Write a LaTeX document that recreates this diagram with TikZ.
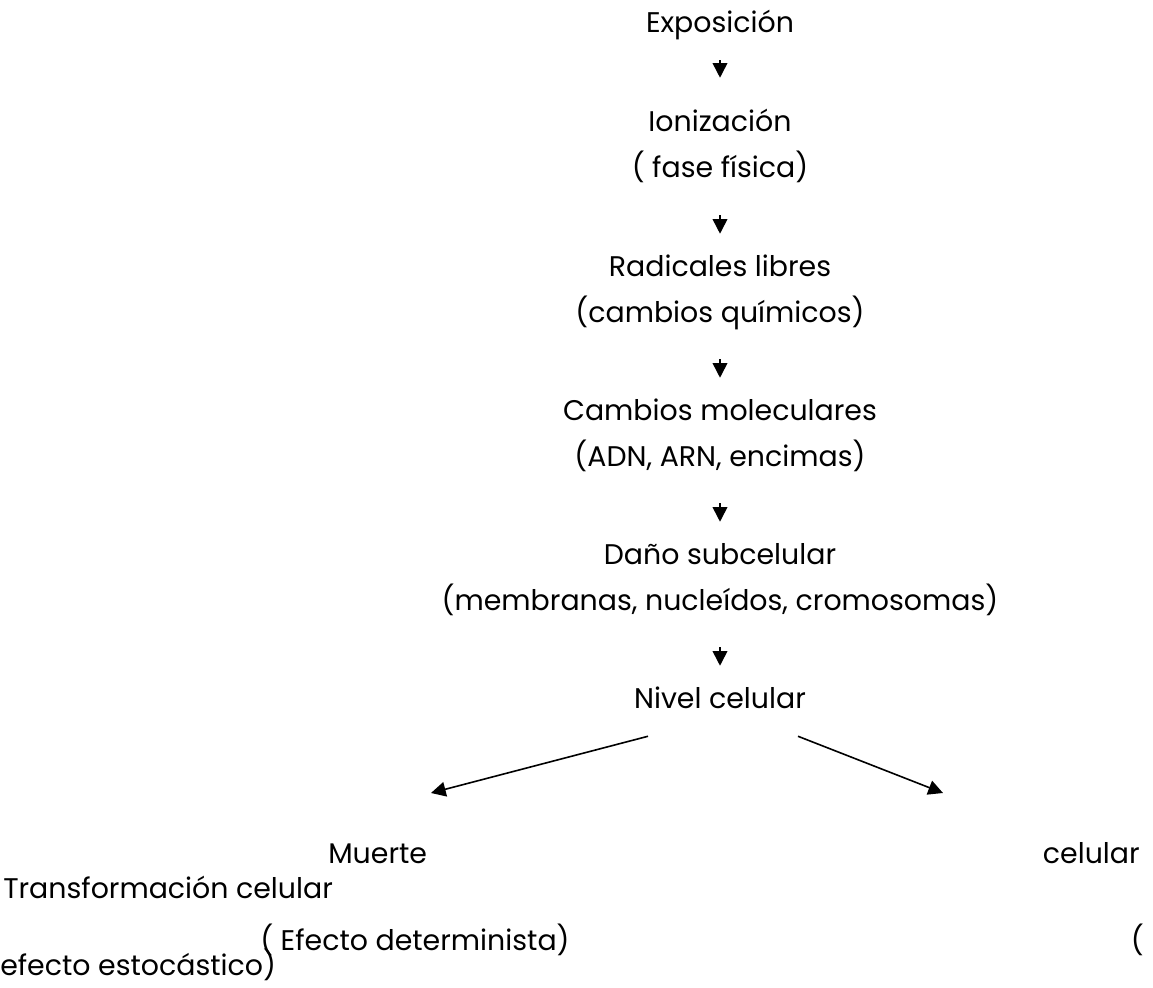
\documentclass[tikz,border=0pt]{standalone}
\usepackage{fontspec}
\setmainfont{Poppins}
\usetikzlibrary{arrows.meta}

\tikzset{
  paso/.style={inner sep=0pt, text height=15pt, text depth=4pt, anchor=base,
    font=\fontsize{21.3}{26}\selectfont},
  flecha/.style={-{Triangle[length=11pt,width=11pt]}, line width=1.2pt},
  corta/.style={flecha, shorten <=23.8pt, shorten >=16.5pt},
}

\begin{document}
\begin{tikzpicture}[x=0.75pt,y=-0.75pt]
    \useasboundingbox (0,0) rectangle (1153,988);
    % cadena de efectos
    \node[paso] (expo) at (720,33) {Exposición};
    \node[paso] (ioniz) at (720,132) {Ionización};
    \node[paso] (fase) at (720,178) {( fase física)};
    \node[paso] (radical) at (720,276) {Radicales libres};
    \node[paso] (quimic) at (720,322) {(cambios químicos)};
    \node[paso] (molec) at (720,420) {Cambios moleculares};
    \node[paso] (adn) at (720,466) {(ADN, ARN, encimas)};
    \node[paso] (dano) at (720,564) {Daño subcelular};
    \node[paso] (membr) at (720,610) {(membranas, nucleídos, cromosomas)};
    \node[paso] (nivel) at (720,708) {Nivel celular};
    \draw[flecha, shorten <=16.3pt, shorten >=25.5pt] (expo) -- (ioniz);
    \draw[corta] (fase) -- (radical);
    \draw[corta] (quimic) -- (molec);
    \draw[corta] (adn) -- (dano);
    \draw[corta] (membr) -- (nivel);
    % las dos ramas
    \coordinate (izq) at (431,793);
    \coordinate (der) at (943,793);
    \draw[flecha] ([xshift=-54pt,yshift=-17pt]nivel.south) -- (izq);
    \draw[flecha] ([xshift=58.5pt,yshift=-17pt]nivel.south) -- (der);
    % texto de abajo
    \node[paso, anchor=base west] (muerte) at (328,863) {Muerte};
    \node[paso, anchor=base east] (celular) at (1140,863) {celular};
    \node[paso, anchor=base west] (transf) at (3,898) {Transformación celular};
    \node[paso, anchor=base west] (determ) at (260,950) {( Efecto determinista)};
    \node[paso, anchor=base east] (parent) at (1144,950) {(};
    \node[paso, anchor=base west] (estoc) at (0,975) {efecto estocástico)};
\end{tikzpicture}
\end{document}
